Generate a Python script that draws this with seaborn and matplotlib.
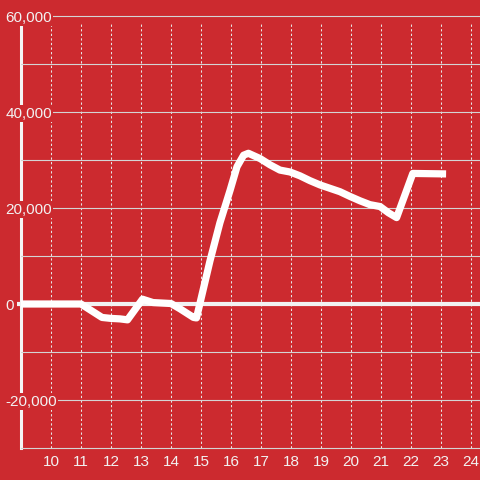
import matplotlib
matplotlib.use('Agg')
import matplotlib.pyplot as plt
import matplotlib.transforms as mtransforms
import seaborn as sns
import pandas as pd

# ---- data ----
hours = [9.0, 10.0, 11.0, 11.3, 11.7, 12.0, 12.3, 12.55, 13.05, 13.4, 14.0,
         14.3, 14.75, 14.85, 15.3, 15.63, 15.97, 16.2, 16.42, 16.58, 16.97,
         17.3, 17.63, 17.97, 18.3, 18.63, 18.97, 19.3, 19.63, 19.97, 20.3,
         20.63, 20.97, 21.25, 21.52, 22.06, 23.17]
values = [0, 0, 0, -1200, -2800, -3000, -3100, -3300, 1000, 300, 100,
          -1000, -2800, -2900, 9000, 16900, 23700, 28600, 31000, 31400, 30300,
          29000, 27900, 27500, 26700, 25700, 24800, 24100, 23400, 22400, 21500,
          20700, 20300, 19000, 18000, 27200, 27100]
x_ticks = list(range(10, 25))
y_major = [-20000, 0, 20000, 40000, 60000]
y_labels = ['-20,000', '0', '20,000', '40,000', '60,000']
y_minor = [-10000, 10000, 30000, 50000]

RED = '#cc2a2f'
TXT = '#f2f2f2'
GRID = '#d4d4d4'

plt.rcParams['font.family'] = ['Liberation Sans', 'DejaVu Sans']

fig = plt.figure(figsize=(4.8, 4.8), dpi=100, facecolor=RED)
ax = fig.add_axes([21 / 480, 32 / 480, 459 / 480, 448 / 480])
ax.set_facecolor(RED)

df = pd.DataFrame({'hour': hours, 'value': values})
sns.lineplot(data=df, x='hour', y='value', ax=ax, color='white',
             linewidth=5.2, sort=False, zorder=5,
             solid_capstyle='butt', solid_joinstyle='round')

ax.set_xlim(9, 9 + 459 / 30)
ax.set_ylim(-30000, -30000 + 448 * 1000 / 4.8)

# spines
for s in ['top', 'right']:
    ax.spines[s].set_visible(False)
ax.spines['left'].set_color('#f5f5f5')
ax.spines['left'].set_linewidth(2.2)
ax.spines['left'].set_bounds(-30000, 60000)
ax.spines['bottom'].set_color(GRID)
ax.spines['bottom'].set_linewidth(0.8)

# ticks
ax.set_xticks(x_ticks)
ax.set_xticklabels([str(t) for t in x_ticks])
ax.set_yticks(y_major)
ax.set_yticklabels(y_labels)
ax.set_yticks(y_minor, minor=True)
ax.tick_params(axis='x', length=0, pad=5.2, labelsize=11, labelcolor=TXT)
ax.tick_params(axis='y', which='both', length=0, pad=11.3, labelsize=11,
               labelcolor=TXT)
for lab in ax.get_yticklabels():
    lab.set_horizontalalignment('left')
    lab.set_bbox(dict(boxstyle='square,pad=0.1', fc=RED, ec='none'))

# horizontal grid (y axis drawn above the spine so label boxes cover it)
ax.yaxis.set_zorder(3)
ax.grid(False)
ax.yaxis.grid(True, which='both', color=GRID, linewidth=0.8)
for gl, v in zip(ax.yaxis.get_gridlines(), y_major):
    if v == 0:
        gl.set_visible(False)

# vertical dotted grid
ax.vlines(x_ticks, -30000, 58500, colors='#e6e6e6', linewidth=0.75,
          linestyles=(0, (2.2, 2.2)), zorder=1)

# zero line
trans = mtransforms.blended_transform_factory(ax.transAxes, ax.transData)
ax.plot([-4 / 459, 1.0], [0, 0], transform=trans, color='#f2f2f2',
        linewidth=3.0, clip_on=False, zorder=4, solid_capstyle='butt')

ax.set_xlabel('')
ax.set_ylabel('')

fig.savefig('out.png', dpi=100, facecolor=RED)
